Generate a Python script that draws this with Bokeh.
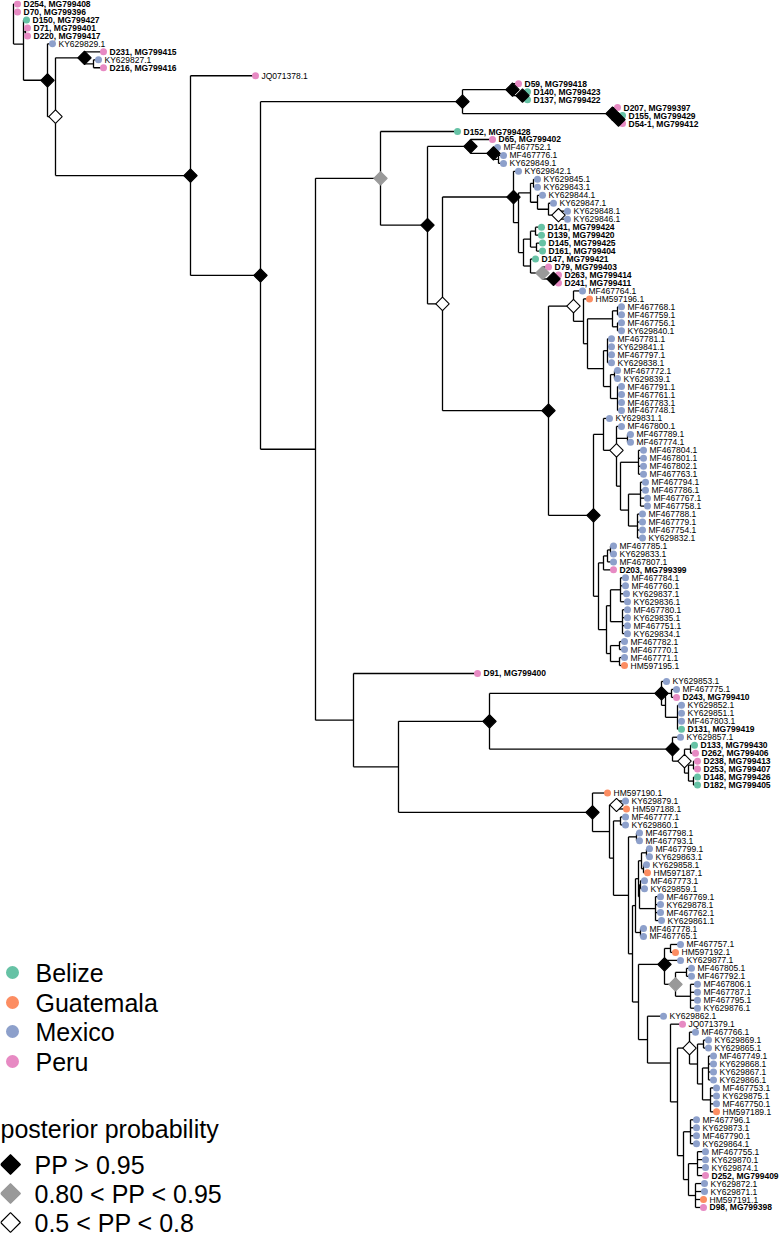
import numpy as np
from bokeh.plotting import figure
from bokeh.models import Range1d
from bokeh.core.properties import value
from bokeh.embed import file_html
from bokeh.resources import INLINE

# ---------------- data ----------------
# sequenced samples: id, GenBank accession, country
sample_ids = ["D254", "D70", "D150", "D71", "D220", "D231", "D216", "D59", "D140", "D137",
              "D207", "D155", "D54-1", "D152", "D65", "D141", "D139", "D145", "D161", "D147",
              "D79", "D263", "D241", "D203", "D91", "D243", "D131", "D133", "D262", "D238",
              "D253", "D148", "D182", "D252", "D98"]
sample_acc = ["MG799408", "MG799396", "MG799427", "MG799401", "MG799417", "MG799415", "MG799416",
              "MG799418", "MG799423", "MG799422", "MG799397", "MG799429", "MG799412", "MG799428",
              "MG799402", "MG799424", "MG799420", "MG799425", "MG799404", "MG799421", "MG799403",
              "MG799414", "MG799411", "MG799399", "MG799400", "MG799410", "MG799419", "MG799430",
              "MG799406", "MG799413", "MG799407", "MG799426", "MG799405", "MG799409", "MG799398"]
sample_country = ["Peru", "Peru", "Belize", "Peru", "Peru", "Peru", "Peru", "Peru", "Belize", "Belize",
                  "Peru", "Belize", "Peru", "Belize", "Peru", "Belize", "Belize", "Belize", "Belize", "Belize",
                  "Peru", "Peru", "Peru", "Peru", "Peru", "Peru", "Belize", "Belize", "Peru", "Peru",
                  "Peru", "Belize", "Belize", "Peru", "Peru"]
# database sequences: country by accession prefix
prefix_country = {"KY": "Mexico", "MF": "Mexico", "HM": "Guatemala", "JQ": "Peru"}

countries = ["Belize", "Guatemala", "Mexico", "Peru"]
country_colors = ["#66C2A5", "#FC8D62", "#8DA0CB", "#E78AC3"]
support_classes = ["B", "G", "W"]
support_labels = ["PP > 0.95", "0.80 < PP < 0.95", "0.5 < PP < 0.8"]

# tree (Newick, branch lengths in 1e-3 units, internal labels = posterior class)
Y = ("(KY629842.1:5,(((KY629845.1:4,KY629843.1:4):3,(KY629844.1:5,(KY629847.1:5,"
     "(KY629848.1:9,KY629846.1:9)W:10):11):7):12,(((D141:6,D139:6):5,(D145:6,D161:6):6):7,"
     "(D147:5,(D79:6,(D263:5,D241:5)B:11)G:12):7):5):5)B:71")
Z1 = ("(MF467764.1:9,(HM597196.1:6,(((MF467768.1:4,MF467759.1:4):5,(MF467756.1:4,KY629840.1:4):5):25,"
      "((MF467781.1:4,KY629841.1:4,MF467797.1:4,KY629838.1:4):4,((MF467772.1:3,KY629839.1:3):4,"
      "(MF467791.1:4,MF467761.1:4,MF467783.1:4,MF467748.1:4):7):7):16):4):10)W:25")
Z2 = ("((KY629831.1:6,(MF467800.1:5,(MF467789.1:3,MF467774.1:3):11,"
      "((MF467804.1:5,MF467801.1:5,MF467802.1:5,MF467763.1:5):18,"
      "((MF467794.1:5,MF467786.1:5,MF467767.1:7,MF467758.1:7):12,"
      "(MF467788.1:5,MF467779.1:5,MF467754.1:5,KY629832.1:5):9):8):4)W:13):10,"
      "((((MF467785.1:3,KY629833.1:3):3,MF467807.1:6):4,D203:10):5,"
      "(((MF467784.1:5,MF467760.1:5,KY629837.1:6,KY629836.1:7):10,"
      "(MF467780.1:5,KY629835.1:5,MF467751.1:5,KY629834.1:5):12):4,"
      "((MF467782.1:5,MF467770.1:5):9,(MF467771.1:5,HM597195.1:5):9):4):8):5)B:45")
T = "(D152:77,((D65:22,(MF467752.1:4,(MF467776.1:5,KY629849.1:5):5)B:23)B:43,(" + Y + ",(" + Z1 + "," + Z2 + ")B:106)W:15)B:47)G:65"
X489 = ("((KY629853.1:5,((MF467775.1:5,D243:5):6,(KY629852.1:4,KY629851.1:4,MF467803.1:4,D131:4):12):4)B:172,"
        "(KY629857.1:8,((D133:4,D262:5):6,((D238:4,D253:4):5,(D148:4,D182:4):5):4)W:12)B:183)B:91")
C4b = ("((((MF467799.1:3,KY629863.1:3):5,(KY629858.1:3,HM597187.1:4):2):3,"
       "((MF467773.1:4,KY629859.1:4):1,(MF467769.1:5,KY629878.1:5,MF467762.1:5,KY629861.1:6):16):1):3,"
       "(MF467778.1:3,MF467765.1:3):5):3")
C8 = ("((MF467757.1:10,HM597192.1:5):6,KY629877.1:16,((MF467805.1:5,MF467792.1:5):11,"
      "(MF467806.1:7,MF467787.1:7,MF467795.1:7,KY629876.1:7):15)G:11)B:26")
C9 = ("(KY629862.1:16,(JQ071379.1:12,((MF467766.1:6,((KY629869.1:5,KY629865.1:5):6,"
      "((MF467749.1:5,KY629868.1:5,KY629867.1:5,KY629866.1:5):6,"
      "(MF467753.1:6,KY629875.1:6,MF467750.1:6,HM597189.1:6):8):5):8)W:12,"
      "((MF467796.1:6,KY629873.1:6,MF467790.1:6,KY629864.1:6):7,"
      "((MF467755.1:8,KY629870.1:8,KY629874.1:8,D252:8):9,"
      "(KY629872.1:9,KY629871.1:9,HM597191.1:8,D98:8):7):5):6):7):23):9")
C2 = ("((MF467777.1:5,KY629860.1:5):7,((MF467798.1:3,MF467793.1:3):8,(" + C4b + ",(" + C8 + "," + C9 + "):6):4):15):4")
X592 = "(HM597190.1:15,((KY629879.1:9,HM597188.1:10)W:7," + C2 + "):17)B:194"
X315 = "(" + T + ",(D91:124,(" + X489 + "," + X592 + "):45):38):55"
S = "(((D59:6,(D140:5,D137:5)B:10)B:50,(D207:5,(D155:4,D54-1:4)B:6)B:150)B:202," + X315 + ")B:70"
NEWICK = "(D254:4,D70:4,(D150:3,(D71:2,D220:2):2,(KY629829.1:5,((D231:19,(KY629827.1:5,D216:10):9)B:29,(JQ071378.1:65," + S + ")B:135)W:8)B:24):10);"


# ---------------- tree layout ----------------
def parse_newick(s):
    s = "".join(s.split()).rstrip(";")
    pos = 0

    def node():
        nonlocal pos
        nd = {"children": [], "name": "", "len": 0.0}
        if s[pos] == "(":
            pos += 1
            while True:
                nd["children"].append(node())
                ch = s[pos]
                pos += 1
                if ch == ")":
                    break
        st = pos
        while pos < len(s) and s[pos] not in ":,()":
            pos += 1
        nd["name"] = s[st:pos]
        if pos < len(s) and s[pos] == ":":
            pos += 1
            st = pos
            while pos < len(s) and s[pos] not in ",()":
                pos += 1
            nd["len"] = float(s[st:pos])
        return nd

    return node()


tree = parse_newick(NEWICK)
tips, internals = [], []


def layout(nd, depth):
    nd["x"] = depth
    if not nd["children"]:
        nd["y"] = float(len(tips))
        tips.append(nd)
    else:
        for c in nd["children"]:
            layout(c, depth + c["len"])
        nd["y"] = float(np.mean([c["y"] for c in nd["children"]]))
        internals.append(nd)


layout(tree, 0.0)

sx0, sy0, sx1, sy1 = [], [], [], []
for nd in internals:
    ys = [c["y"] for c in nd["children"]]
    sx0.append(nd["x"]); sx1.append(nd["x"]); sy0.append(min(ys)); sy1.append(max(ys))
    for c in nd["children"]:
        sx0.append(nd["x"]); sx1.append(c["x"]); sy0.append(c["y"]); sy1.append(c["y"])

ccol = dict(zip(countries, country_colors))
sample_info = {i: (a, c) for i, a, c in zip(sample_ids, sample_acc, sample_country)}

tip_x = [t["x"] for t in tips]
tip_y = [t["y"] for t in tips]
tip_c = []
for t in tips:
    if t["name"] in sample_info:
        tip_c.append(ccol[sample_info[t["name"]][1]])
    else:
        tip_c.append(ccol[prefix_country[t["name"][:2]]])

# ---------------- figure ----------------
W, H = 781, 1236
X_ROOT = 13          # pixel of root
Y0, DY = 3.5, 7.97   # pixel of first tip, tip spacing

p = figure(width=W, height=H, output_backend="svg", toolbar_location=None,
           x_range=Range1d(-X_ROOT, W - X_ROOT),
           y_range=Range1d((H - Y0) / DY, -Y0 / DY),
           x_axis_location=None, y_axis_location=None, min_border=0)
p.grid.visible = False
p.outline_line_color = None
p.background_fill_color = "white"


def rx(px):
    return px - X_ROOT


def ry(py):
    return (py - Y0) / DY


p.segment(x0=sx0, y0=sy0, x1=sx1, y1=sy1, line_color="black", line_width=1.3)
p.scatter(tip_x, tip_y, marker="circle", size=7, fill_color=tip_c, line_color=None)

sup_fill = {"B": "black", "G": "#999999", "W": "white"}
sup_line = {"B": "black", "G": "#999999", "W": "black"}
for cls in support_classes:
    nds = [n for n in internals if n["name"] == cls]
    p.scatter([n["x"] for n in nds], [n["y"] for n in nds], marker="square", angle=np.pi / 4,
              size=9.5, fill_color=sup_fill[cls], line_color=sup_line[cls], line_width=1.1)

OFF = 6
bold_x, bold_y, bold_t, reg_x, reg_y, reg_t = [], [], [], [], [], []
for t in tips:
    if t["name"] in sample_info:
        bold_x.append(t["x"] + OFF); bold_y.append(t["y"])
        bold_t.append(t["name"] + ", " + sample_info[t["name"]][0])
    else:
        reg_x.append(t["x"] + OFF); reg_y.append(t["y"]); reg_t.append(t["name"])
p.text(bold_x, bold_y, text=bold_t, text_font=value("Liberation Sans"), text_font_size=value("8.5px"),
       text_font_style="bold", text_baseline="middle", text_color="black")
p.text(reg_x, reg_y, text=reg_t, text_font=value("Liberation Sans"), text_font_size=value("8.5px"),
       text_baseline="middle", text_color="black")

# ---------------- legends ----------------
leg_y = [972, 1002, 1031, 1061]
p.scatter([rx(12)] * 4, [ry(v) for v in leg_y], marker="circle", size=13,
          fill_color=country_colors, line_color=None)
p.text([rx(35)] * 4, [ry(v) for v in leg_y], text=countries, text_font=value("Liberation Sans"),
       text_font_size=value("25px"), text_baseline="middle", text_color="black")
p.text([rx(0)], [ry(1128)], text=["posterior probability"], text_font=value("Liberation Sans"),
       text_font_size=value("25px"), text_baseline="middle", text_color="black")
pp_y = [1164, 1193, 1222]
p.scatter([rx(10)] * 3, [ry(v) for v in pp_y], marker="square", angle=np.pi / 4, size=14,
          fill_color=[sup_fill[c] for c in support_classes],
          line_color=[sup_line[c] for c in support_classes], line_width=1.2)
p.text([rx(34)] * 3, [ry(v) for v in pp_y], text=support_labels, text_font=value("Liberation Sans"),
       text_font_size=value("25px"), text_baseline="middle", text_color="black")

open("out.html", "w").write(file_html(p, INLINE))
